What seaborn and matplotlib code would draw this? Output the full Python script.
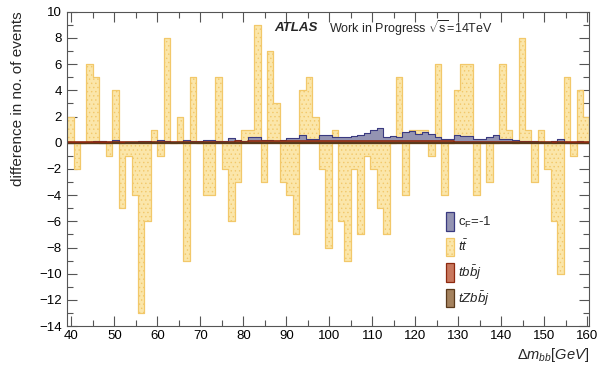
import numpy as np
import pandas as pd
import seaborn as sns
import matplotlib
matplotlib.use("Agg")
import matplotlib.pyplot as plt
from matplotlib.patches import Patch
from matplotlib.ticker import MultipleLocator

# ---- data -------------------------------------------------------------
bin_edges = [round(39.0 + 1.5 * i, 2) for i in range(82)]   # 81 bins of 1.5 GeV
bin_centers = [0.5 * (a + b) for a, b in zip(bin_edges[:-1], bin_edges[1:])]

tt_vals = [2, -2, 0, 6, 5, 0, -1, 4, -5, -1, -4,
           -13, -6, 1, -1, 8, 0, 2, -9, 5, 0,
           -4, -4, 5, -2, -6, -3, 1, 1, 9, -3,
           7, 3, -3, -4, -7, 4, 5, 2, -2, -8,
           1, -6, -9, -2, -7, -1, -2, -5, -7, 0,
           5, -4, 1, 1, 1, -1, 6, -4, 0, 4,
           6, 6, -4, 0, -3, 0, 6, 1, 0, 8,
           1, -3, 1, -2, -6, -10, 5, -1, 4, 2]

cf_vals = [0.02, 0.02, 0.03, 0.05, 0.12, 0.12, 0.05, 0.18, 0.05, 0.05, 0.06,
           0.10, 0.12, 0.05, 0.18, 0.12, 0.06, 0.08, 0.20, 0.15, 0.10,
           0.18, 0.22, 0.10, 0.12, 0.33, 0.20, 0.15, 0.40, 0.40, 0.22,
           0.18, 0.12, 0.22, 0.33, 0.33, 0.60, 0.30, 0.30, 0.60, 0.60,
           0.40, 0.40, 0.45, 0.50, 0.58, 0.75, 1.00, 1.10, 0.45, 0.55,
           0.45, 0.85, 0.90, 0.70, 0.85, 0.70, 0.45, 0.30, 0.30, 0.60,
           0.50, 0.50, 0.25, 0.25, 0.45, 0.60, 0.25, 0.25, 0.20, 0.10,
           0.10, 0.15, 0.08, 0.08, 0.15, 0.25, 0.02, 0.03, 0.12, 0.05]

tbbj_vals = [0.02, 0.02, 0.03, 0.03, 0.04, 0.03, 0.04, 0.05, 0.04, 0.05, 0.05,
             0.05, 0.06, 0.05, 0.06, 0.06, 0.07, 0.06, 0.07, 0.08, 0.07,
             0.08, 0.08, 0.09, 0.08, 0.09, 0.10, 0.09, 0.10, 0.11, 0.10,
             0.10, 0.11, 0.10, 0.12, 0.11, 0.12, 0.12, 0.11, 0.13, 0.12,
             0.12, 0.13, 0.12, 0.13, 0.12, 0.13, 0.14, 0.13, 0.12, 0.12,
             0.13, 0.12, 0.11, 0.12, 0.11, 0.10, 0.11, 0.10, 0.10, 0.09,
             0.09, 0.08, 0.09, 0.08, 0.07, 0.08, 0.07, 0.06, 0.06, 0.05,
             0.06, 0.05, 0.05, 0.04, 0.05, 0.04, 0.04, 0.03, 0.03, 0.03]

tzbbj_vals = [0.01, 0.01, 0.01, 0.01, 0.01, 0.01, 0.01, 0.02, 0.01, 0.02, 0.02,
              0.02, 0.02, 0.02, 0.02, 0.02, 0.02, 0.02, 0.03, 0.02, 0.03,
              0.03, 0.03, 0.03, 0.03, 0.03, 0.03, 0.03, 0.04, 0.03, 0.04,
              0.04, 0.04, 0.04, 0.04, 0.04, 0.04, 0.04, 0.04, 0.04, 0.04,
              0.04, 0.04, 0.04, 0.04, 0.04, 0.04, 0.04, 0.04, 0.04, 0.04,
              0.04, 0.04, 0.04, 0.03, 0.04, 0.03, 0.03, 0.03, 0.03, 0.03,
              0.03, 0.03, 0.03, 0.03, 0.02, 0.03, 0.02, 0.02, 0.02, 0.02,
              0.02, 0.02, 0.02, 0.02, 0.01, 0.02, 0.01, 0.01, 0.01, 0.01]

labels = [r"c$_{\mathregular{F}}$=-1", r"$t\bar{t}$", r"$tb\bar{b}j$", r"$tZb\bar{b}j$"]

# ---- style ------------------------------------------------------------
sns.set_style("ticks")
plt.rcParams["font.family"] = ["Liberation Sans", "DejaVu Sans"]
plt.rcParams["mathtext.fontset"] = "custom"
plt.rcParams["mathtext.rm"] = "Liberation Sans"
plt.rcParams["mathtext.it"] = "Liberation Sans:italic"
plt.rcParams["mathtext.bf"] = "Liberation Sans:bold"
plt.rcParams["hatch.color"] = "#efd084"
plt.rcParams["hatch.linewidth"] = 0.5

tt_face, tt_edge = "#fbe6aa", "#f2c86a"
cf_face, cf_edge = "#9494b2", "#3a3a80"
tb_face, tb_edge = "#c8785e", "#8e2a10"
tz_face, tz_edge = "#a4825e", "#5a3a1c"

fig = plt.figure(figsize=(5.98, 3.66), dpi=100)
ax = fig.add_axes([0.1115, 0.109, 0.8735, 0.859])

df = pd.DataFrame({"x": bin_centers, "tt": tt_vals, "cf": cf_vals,
                   "tb": tbbj_vals, "tz": tzbbj_vals})

sns.histplot(data=df, x="x", weights="tt", bins=bin_edges, element="step",
             fill=True, color=tt_face, edgecolor=tt_edge, linewidth=0.9,
             alpha=1, hatch="....", ax=ax)
sns.histplot(data=df, x="x", weights="cf", bins=bin_edges, element="step",
             fill=True, color=cf_face, edgecolor=cf_edge, linewidth=0.8,
             alpha=1, ax=ax)
sns.histplot(data=df, x="x", weights="tb", bins=bin_edges, element="step",
             fill=True, color=tb_face, edgecolor=tb_edge, linewidth=1.2,
             alpha=1, ax=ax)
sns.histplot(data=df, x="x", weights="tz", bins=bin_edges, element="step",
             fill=True, color=tz_face, edgecolor=tz_edge, linewidth=0.8,
             alpha=1, ax=ax)

ax.set_xlim(38.9, 160.4)
ax.set_ylim(-14, 10)

ax.xaxis.set_major_locator(MultipleLocator(10))
ax.xaxis.set_minor_locator(MultipleLocator(5))
ax.yaxis.set_major_locator(MultipleLocator(2))
ax.yaxis.set_minor_locator(MultipleLocator(1))
ax.tick_params(which="both", direction="in", top=True, right=True,
               color="#555555", width=0.8, labelsize=9.5, labelcolor="black")
ax.tick_params(which="major", length=7)
ax.tick_params(which="minor", length=4)
ax.tick_params(axis="x", which="major", pad=3)
for sp in ax.spines.values():
    sp.set_color("#555555")
    sp.set_linewidth(0.8)

ax.set_ylabel("difference in no. of events", loc="top", fontsize=11, labelpad=10)
ax.set_xlabel(r"$\mathit{\Delta m_{bb}[GeV]}$", loc="right", fontsize=10.5, labelpad=3)

ax.text(0.397, 0.948, "ATLAS", transform=ax.transAxes, fontsize=9.6,
        fontweight="bold", fontstyle="italic", va="center", ha="left")
ax.text(0.502, 0.948, r"Work in Progress $\sqrt{\mathregular{s}}$=14TeV",
        transform=ax.transAxes, fontsize=9.0, va="center", ha="left")

handles = [Patch(facecolor=cf_face, edgecolor=cf_edge, linewidth=0.9),
           Patch(facecolor=tt_face, edgecolor=tt_edge, linewidth=0.9, hatch="...."),
           Patch(facecolor=tb_face, edgecolor=tb_edge, linewidth=0.9),
           Patch(facecolor=tz_face, edgecolor=tz_edge, linewidth=0.9)]
ax.legend(handles, labels, loc="upper left", bbox_to_anchor=(0.727, 0.362),
          frameon=False, fontsize=9.5, handlelength=0.6, handleheight=1.75,
          labelspacing=0.55, handletextpad=0.3, borderpad=0, borderaxespad=0)

sns.despine(ax=ax, top=False, right=False)
fig.savefig("out.png", dpi=100)
